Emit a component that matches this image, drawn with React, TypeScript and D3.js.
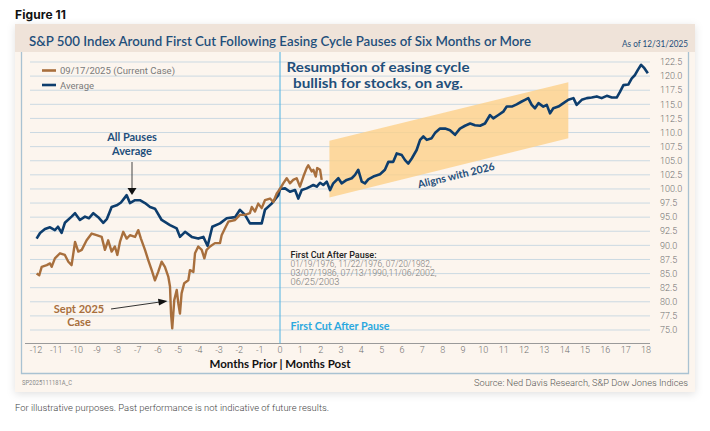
import React from 'react'
import * as d3 from 'd3'

// average of all pauses (months relative to first cut, index = 100 at cut)
const avgMonths = [
  -11.97, -11.8, -11.56, -11.31, -11.07, -10.92, -10.74, -10.58, -10.25, -10.08,
  -9.84, -9.59, -9.4, -9.18, -8.94, -8.69, -8.51, -8.28, -8.03, -7.82,
  -7.54, -7.38, -7.13, -6.89, -6.64, -6.39, -6.15, -5.82, -5.41, -5.08,
  -4.92, -4.67, -4.34, -4.02, -3.77, -3.56, -3.33, -2.95, -2.62, -2.21,
  -1.97, -1.72, -1.48, -1.15, -0.9, -0.74, -0.41, -0.08, 0,
  0.25, 0.49, 0.74, 0.9, 1.07, 1.31, 1.48, 1.64, 1.81, 1.97,
  2.13, 2.3, 2.46, 2.62, 2.87, 3.03, 3.28, 3.53, 3.69, 3.85,
  4.02, 4.18, 4.34, 4.59, 4.92, 5.16, 5.33, 5.57, 5.74, 5.99,
  6.15, 6.31, 6.48, 6.72, 6.89, 7.05, 7.22, 7.46, 7.62, 7.87,
  8.12, 8.36, 8.61, 8.85, 9.1, 9.35, 9.59, 9.84, 10.08, 10.33,
  10.49, 10.74, 10.98, 11.15, 11.4, 11.64, 11.89, 12.05, 12.21, 12.38,
  12.54, 12.71, 12.95, 13.12, 13.28, 13.44, 13.69, 13.94, 14.18, 14.43,
  14.59, 14.84, 15.09, 15.33, 15.58, 15.82, 16.07, 16.32, 16.56, 16.72,
  16.89, 17.13, 17.3, 17.46, 17.6, 17.76, 17.92, 18.09
]
const avgValues = [
  91.2, 92.2, 92.9, 93.2, 92.7, 93.3, 92.2, 94.0, 95.1, 95.7,
  94.5, 95.1, 94.8, 95.7, 95.0, 94.0, 94.7, 96.8, 97.1, 97.6,
  98.9, 97.5, 98.0, 98.0, 97.5, 96.8, 96.5, 94.5, 93.6, 93.0,
  91.5, 92.4, 91.5, 91.2, 91.5, 89.9, 93.3, 93.9, 94.8, 95.0,
  96.3, 95.4, 93.9, 93.9, 93.9, 96.3, 97.4, 98.9, 100.0,
  100.1, 99.5, 99.8, 98.3, 99.8, 100.1, 100.4, 100.7, 100.4, 101.1,
  100.7, 101.3, 99.8, 101.0, 101.9, 101.0, 101.6, 101.9, 102.5, 103.4,
  101.3, 101.0, 101.7, 102.2, 102.6, 103.4, 104.8, 104.8, 106.3, 106.0,
  105.1, 104.5, 105.4, 106.9, 108.7, 109.3, 108.7, 109.0, 109.9, 110.7,
  110.7, 110.4, 109.6, 110.7, 111.2, 111.6, 111.3, 111.2, 111.6, 113.1,
  112.5, 113.1, 113.7, 114.6, 114.6, 115.0, 115.5, 115.8, 116.1, 114.9,
  114.3, 115.2, 114.6, 114.9, 113.4, 114.3, 114.6, 115.2, 115.8, 116.1,
  114.9, 115.8, 116.1, 116.2, 116.4, 116.1, 116.5, 116.2, 116.2, 117.2,
  118.4, 118.5, 119.6, 120.2, 121.1, 122.0, 121.4, 120.5
]

// current case: 09/17/2025
const currentMonths = [
  -11.97, -11.84, -11.72, -11.47, -11.31, -11.23, -11.07, -10.82, -10.58, -10.41,
  -10.25, -10.08, -9.92, -9.75, -9.51, -9.26, -9.02, -8.77, -8.61, -8.45,
  -8.28, -8.12, -8.0, -7.87, -7.71, -7.54, -7.38, -7.13, -6.97, -6.84,
  -6.64, -6.48, -6.31, -6.15, -5.99, -5.82, -5.66, -5.49, -5.41, -5.36,
  -5.3, -5.2, -5.08, -5.0, -4.92, -4.84, -4.71, -4.51, -4.43, -4.26,
  -4.18, -4.02, -3.85, -3.72, -3.61, -3.44, -3.2, -2.95, -2.87, -2.71,
  -2.54, -2.21, -1.97, -1.72, -1.48, -1.39, -1.23, -1.07, -0.9, -0.74,
  -0.49, -0.33, -0.16, 0, 0.16, 0.33, 0.49, 0.65, 0.82, 0.98,
  1.15, 1.31, 1.39, 1.56, 1.64, 1.76, 1.83, 1.97, 2.05
]
const currentValues = [
  85.0, 84.7, 86.2, 86.5, 86.8, 86.2, 87.7, 88.6, 88.3, 87.1,
  86.5, 90.6, 88.9, 89.2, 90.9, 92.1, 91.8, 91.5, 89.2, 90.9,
  88.9, 89.8, 88.3, 90.6, 92.4, 91.2, 91.8, 91.5, 92.7, 91.2,
  89.2, 87.4, 85.6, 83.8, 85.3, 87.1, 86.2, 84.4, 82.7, 77.9,
  75.3, 80.3, 82.1, 79.7, 77.9, 81.5, 83.3, 83.8, 85.6, 85.3,
  88.6, 89.8, 89.2, 87.7, 89.2, 89.8, 90.4, 90.4, 91.8, 93.0,
  94.2, 94.5, 95.4, 95.4, 95.7, 96.8, 96.0, 97.4, 96.6, 98.0,
  98.3, 97.7, 99.2, 100.0, 101.0, 101.9, 101.0, 101.6, 101.9, 100.4,
  102.2, 103.7, 104.2, 103.1, 103.4, 102.2, 103.7, 103.4, 101.6
]

const xTicks = [-12, -11, -10, -9, -8, -7, -6, -5, -4, -3, -2, -1, 0, 1, 2, 3, 4, 5, 6, 7, 8, 9, 10, 11, 12, 13, 14, 15, 16, 17, 18]
const yTicks = [75, 77.5, 80, 82.5, 85, 87.5, 90, 92.5, 95, 97.5, 100, 102.5, 105, 107.5, 110, 112.5, 115, 117.5, 120, 122.5]
const firstCutDates = ['01/19/1976, 11/22/1976, 07/20/1982,', '03/07/1986, 07/13/1990,11/06/2002,', '06/25/2003']
// channel drawn over months 2.4 - 14.2
const channelMonths = [2.43, 14.18, 14.18, 2.43]
const channelValues = [108.55, 118.9, 109.0, 98.5]

const NAVY = '#0d3d6d'
const BROWN = '#a86f3d'
const TITLE = '#1f4f7b'
const CYAN = '#2ba8df'

export default function App() {
  const x = d3.scaleLinear().domain([-12, 18]).range([36, 646])
  const y = d3.scaleLinear().domain([75, 122.5]).range([330, 62])

  const line = d3.line<[number, number]>().x(d => x(d[0])).y(d => y(d[1]))
  const avg = avgMonths.map((m, i) => [m, avgValues[i]] as [number, number])
  const cur = currentMonths.map((m, i) => [m, currentValues[i]] as [number, number])
  const channel = channelMonths.map((m, i) => [x(m), y(channelValues[i])].join(',')).join(' ')

  const sans = 'Lato, "Open Sans", sans-serif'
  const light = 'Roboto, "Noto Sans", sans-serif'

  return (
    <svg width={710} height={431} style={{ position: 'absolute', left: 0, top: 0, background: '#fff' }}>
      <defs>
        <filter id="shadow" x="-5%" y="-5%" width="110%" height="115%">
          <feDropShadow dx="0" dy="2" stdDeviation="4" floodColor="#000" floodOpacity="0.12" />
        </filter>
      </defs>

      <text x={15} y={19} fontFamily="Inter, sans-serif" fontWeight={700} fontSize={12} fill="#111" textLength={51}>Figure 11</text>

      {/* card */}
      <rect x={15} y={24} width={680} height={368} fill="#fcf5ee" filter="url(#shadow)" />
      <rect x={15} y={24} width={680} height={28} fill="#efe3d9" />
      <text x={29} y={46} fontFamily={sans} fontWeight={600} fontSize={13} fill={TITLE} textLength={502} lengthAdjust="spacingAndGlyphs">
        S&amp;P 500 Index Around First Cut Following Easing Cycle Pauses of Six Months or More
      </text>
      <text x={688} y={46.5} textAnchor="end" fontFamily={sans} fontSize={9} fill={TITLE} textLength={66} lengthAdjust="spacingAndGlyphs">As of 12/31/2025</text>

      {/* inner frame */}
      <path d="M21.5,52 V373.5 H688.5 V52" fill="none" stroke="#a9c2d2" strokeWidth={1.3} />

      {/* grid */}
      {yTicks.map(t => (
        <line key={t} x1={30} x2={650} y1={y(t)} y2={y(t)} stroke="#cbd9e2" strokeWidth={1} />
      ))}
      {yTicks.map(t => (
        <text key={'l' + t} x={660} y={y(t) + 3.2} fontFamily={light} fontWeight={300} fontSize={9} fill="#6f6f6f">{t.toFixed(1)}</text>
      ))}

      {/* x axis */}
      <line x1={25} x2={650} y1={343.5} y2={343.5} stroke="#9a9a9a" strokeWidth={1} />
      {xTicks.map(t => (
        <text key={t} x={x(t)} y={353} textAnchor="middle" fontFamily={light} fontWeight={300} fontSize={9} fill="#6f6f6f">{t}</text>
      ))}
      <text x={x(0)} y={368} textAnchor="middle" fontFamily={sans} fontWeight={700} fontSize={11} fill="#111" textLength={141} lengthAdjust="spacingAndGlyphs">Months Prior | Months Post</text>

      {/* channel */}
      <polygon points={channel} fill="#fcd18a" opacity={0.8} />

      {/* first cut line */}
      <line x1={x(0)} x2={x(0)} y1={52} y2={343.5} stroke="#4db2e2" strokeWidth={1} />

      {/* series */}
      <path d={line(avg) || ''} fill="none" stroke={NAVY} strokeWidth={2.6} strokeLinejoin="round" />
      <path d={line(cur) || ''} fill="none" stroke={BROWN} strokeWidth={2.4} strokeLinejoin="round" />

      {/* legend */}
      <line x1={42} x2={56} y1={70.5} y2={70.5} stroke={BROWN} strokeWidth={2.6} />
      <text x={60} y={74} fontFamily={light} fontSize={9.5} fill="#7a7a7a" textLength={115} lengthAdjust="spacingAndGlyphs">09/17/2025 (Current Case)</text>
      <line x1={42} x2={56} y1={85} y2={85} stroke={NAVY} strokeWidth={2.6} />
      <text x={60} y={88.5} fontFamily={light} fontSize={9.5} fill="#7a7a7a">Average</text>

      {/* annotations */}
      <text x={378} y={72} textAnchor="middle" fontFamily={sans} fontWeight={700} fontSize={14} fill={TITLE} textLength={183} lengthAdjust="spacingAndGlyphs">Resumption of easing cycle</text>
      <text x={378} y={87.5} textAnchor="middle" fontFamily={sans} fontWeight={700} fontSize={14} fill={TITLE} textLength={170} lengthAdjust="spacingAndGlyphs">bullish for stocks, on avg.</text>

      <text transform="translate(457,179) rotate(-13.7)" textAnchor="middle" fontFamily={sans} fontWeight={700} fontSize={10.5} fill={TITLE}>Aligns with 2026</text>

      <text x={132} y={141} textAnchor="middle" fontFamily={sans} fontWeight={700} fontSize={11} fill={TITLE}>All Pauses</text>
      <text x={132} y={155} textAnchor="middle" fontFamily={sans} fontWeight={700} fontSize={11} fill={TITLE}>Average</text>
      <line x1={132} x2={132} y1={162} y2={189} stroke="#444" strokeWidth={1} />
      <polygon points="127.5,188 136.5,188 132,195" fill="#111" />

      <text x={79} y={313} textAnchor="middle" fontFamily={sans} fontWeight={700} fontSize={11} fill={BROWN}>Sept 2025</text>
      <text x={79} y={326} textAnchor="middle" fontFamily={sans} fontWeight={700} fontSize={11} fill={BROWN}>Case</text>
      <line x1={111} x2={160} y1={309} y2={302} stroke="#333" strokeWidth={1} />
      <polygon points="158,298.8 167.5,300.9 159,305.5" fill="#111" />

      <text x={290.5} y={258} fontFamily={light} fontWeight={500} fontSize={8.5} fill="#222" textLength={86} lengthAdjust="spacingAndGlyphs">First Cut After Pause:</text>
      {firstCutDates.map((d, i) => (
        <text key={d} x={290.5} y={267.3 + i * 9} fontFamily={light} fontWeight={300} fontSize={8.5} fill="#777"
          textLength={[141, 146, 49][i]} lengthAdjust="spacingAndGlyphs">{d}</text>
      ))}
      <text x={290.5} y={329.5} fontFamily={sans} fontWeight={700} fontSize={10.5} fill={CYAN} textLength={99} lengthAdjust="spacingAndGlyphs">First Cut After Pause</text>

      {/* footers */}
      <text x={22} y={385} fontFamily={light} fontSize={6.5} fill="#888" textLength={50} lengthAdjust="spacingAndGlyphs">SP2025111181A_C</text>
      <text x={688} y={385.5} textAnchor="end" fontFamily={light} fontWeight={300} fontSize={9.5} fill="#555" textLength={214} lengthAdjust="spacingAndGlyphs">Source: Ned Davis Research, S&amp;P Dow Jones Indices</text>
      <text x={15} y={411} fontFamily={light} fontWeight={300} fontSize={9} fill="#444" textLength={314} lengthAdjust="spacingAndGlyphs">For illustrative purposes. Past performance is not indicative of future results.</text>
    </svg>
  )
}
